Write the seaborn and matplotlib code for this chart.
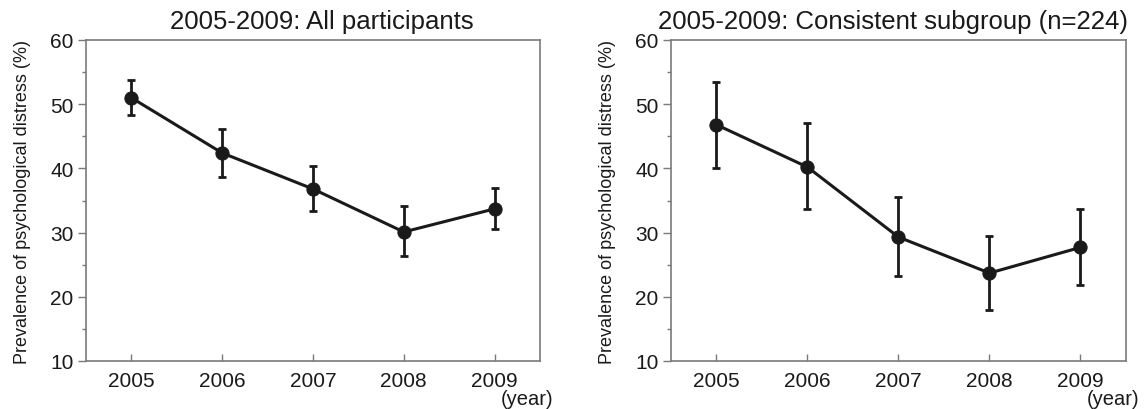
import matplotlib
matplotlib.use("Agg")
import matplotlib.pyplot as plt
import seaborn as sns
import numpy as np
import pandas as pd
from matplotlib.ticker import MultipleLocator

# ---- data ----
years = [2005, 2006, 2007, 2008, 2009]

all_mean = [51.0, 42.4, 36.8, 30.1, 33.7]
all_upper = [53.8, 46.2, 40.4, 34.1, 36.9]
all_lower = [48.3, 38.6, 33.4, 26.4, 30.5]

sub_mean = [46.8, 40.2, 29.3, 23.7, 27.7]
sub_upper = [53.5, 47.0, 35.5, 29.5, 33.7]
sub_lower = [40.1, 33.6, 23.2, 18.0, 21.8]

titles = ["2005-2009: All participants", "2005-2009: Consistent subgroup (n=224)"]
ylabel = "Prevalence of psychological distress (%)"
yticks = [10, 20, 30, 40, 50, 60]
year_note = "(year)"

sns.set_style("white")
plt.rcParams["font.family"] = ["Liberation Sans", "DejaVu Sans"]

fig = plt.figure(figsize=(11.46, 4.10), dpi=100)
W, H = 1146, 410
ax1 = fig.add_axes([86 / W, 1 - 362 / H, (540 - 86) / W, (362 - 41) / H])
ax2 = fig.add_axes([671 / W, 1 - 362 / H, (1126 - 671) / W, (362 - 41) / H])

line_col = "#1a1a1a"
spine_col = "#7a7a7a"

panels = [
    (ax1, all_mean, all_lower, all_upper, titles[0], 0.52),
    (ax2, sub_mean, sub_lower, sub_upper, titles[1], 0.488),
]

for ax, m, lo, hi, title, tx in panels:
    df = pd.DataFrame({"year": years, "value": m})
    sns.lineplot(data=df, x="year", y="value", ax=ax, color=line_col,
                 linewidth=2.2, marker="o", markersize=9.5, markeredgecolor=line_col,
                 markerfacecolor=line_col, zorder=3)
    m_arr = np.array(m)
    yerr = [m_arr - np.array(lo), np.array(hi) - m_arr]
    ax.errorbar(years, m, yerr=yerr, fmt="none", ecolor=line_col,
                elinewidth=2.0, capsize=3, capthick=2.0, zorder=2)

    ax.set_xlim(2004.5, 2009.5)
    ax.set_ylim(10, 60)
    ax.set_xticks(years)
    ax.set_xticklabels([str(y) for y in years])
    ax.set_yticks(yticks)
    ax.yaxis.set_minor_locator(MultipleLocator(5))
    ax.set_xlabel("")
    ax.set_ylabel(ylabel, fontsize=13, labelpad=14, color="#1a1a1a")
    ax.set_title(title, fontsize=18.5, pad=9, x=tx, color="#1a1a1a")

    for s in ax.spines.values():
        s.set_visible(True)
        s.set_color(spine_col)
        s.set_linewidth(1.2)

    ax.tick_params(axis="y", which="major", direction="out", length=6,
                   width=1.0, color=spine_col, labelsize=15, pad=3, left=True,
                   labelcolor="#1a1a1a")
    ax.tick_params(axis="y", which="minor", direction="out", length=3,
                   width=1.0, color=spine_col, left=True)
    ax.tick_params(axis="x", which="major", direction="in", length=5,
                   width=1.0, color=spine_col, labelsize=15, pad=7, bottom=True,
                   labelcolor="#1a1a1a")
    ax.tick_params(axis="x", which="minor", bottom=False, top=False)

    ax.text(1.029, -0.118, year_note, transform=ax.transAxes, ha="right",
            va="center", fontsize=14.5, color="#1a1a1a")

fig.savefig("out.png", dpi=100)
